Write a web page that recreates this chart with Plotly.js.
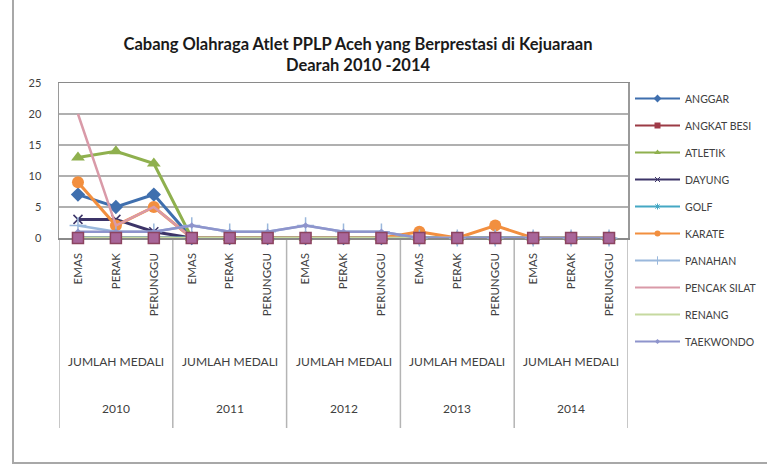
<!DOCTYPE html>
<html><head><meta charset="utf-8">
<script src="https://cdn.plot.ly/plotly-3.0.1.min.js"></script>
<style>html,body{margin:0;padding:0;background:#fff}#chart{width:767px;height:465px}</style>
</head><body><div id="chart"></div>
<script>
// ---- data ----
const years = ["2010", "2011", "2012", "2013", "2014"];
const groupLabel = "JUMLAH MEDALI";
const medals = ["EMAS", "PERAK", "PERUNGGU"];
const sports = ["ANGGAR", "ANGKAT BESI", "ATLETIK", "DAYUNG", "GOLF", "KARATE", "PANAHAN", "PENCAK SILAT", "RENANG", "TAEKWONDO"];

const anggar      = [7, 5, 7,  0, 0, 0,  0, 0, 0,  0, 0, 0,  0, 0, 0];
const angkatBesi  = [0, 0, 0,  0, 0, 0,  0, 0, 0,  0, 0, 0,  0, 0, 0];
const atletik     = [13, 14, 12, 0, 0, 0, 0, 0, 0,  0, 0, 0,  0, 0, 0];
const dayung      = [3, 3, 1,  0, 0, 0,  0, 0, 0,  0, 0, 0,  0, 0, 0];
const golf        = [0, 0, 0,  0, 0, 0,  0, 0, 0,  0, 0, 0,  0, 0, 0];
const karate      = [9, 2, 5,  0, 0, 0,  0, 0, 0,  1, 0, 2,  0, 0, 0];
const panahan     = [2, 1, 1,  2, 1, 1,  2, 1, 1,  0, 0, 0,  0, 0, 0];
const pencakSilat = [20, 2, 5, 0, 0, 0,  0, 0, 0,  0, 0, 0,  0, 0, 0];
const renang      = [0, 0, 0,  0, 0, 0,  0, 0, 0,  0, 0, 0,  0, 0, 0];
const taekwondo   = [1, 1, 1,  2, 1, 1,  2, 1, 1,  0, 0, 0,  0, 0, 0];

const seriesValues = [anggar, angkatBesi, atletik, dayung, golf, karate, panahan, pencakSilat, renang, taekwondo];

// ---- styles ----
const styles = [
  {color: "#3f6fae", width: 3,   marker: {symbol: "diamond", size: 11}, lm: {symbol: "diamond", size: 6}},
  {color: "#9b3b45", width: 3,   marker: {symbol: "square", size: 11, color: "#a8669a", line: {color: "#8c4460", width: 1.5}},
    lm: {symbol: "square", size: 6, color: "#a03a48"}, markersOnTop: true},
  {color: "#8fb04e", width: 3,   marker: {symbol: "triangle-up", size: 12}, lm: {symbol: "triangle-up", size: 6}},
  {color: "#3c3468", width: 3,   marker: {symbol: "x-thin-open", size: 9, line: {color: "#3c3468", width: 1.5}},
    lm: {symbol: "x-thin-open", size: 5, line: {color: "#3c3468", width: 1}}},
  {color: "#45a8c4", width: 3,   marker: {symbol: "asterisk-open", size: 8, line: {color: "#45a8c4", width: 1.5}},
    lm: {symbol: "asterisk-open", size: 5, line: {color: "#45a8c4", width: 1}}},
  {color: "#f28f3f", width: 3,   marker: {symbol: "circle", size: 12}, lm: {symbol: "circle", size: 6}},
  {color: "#9ab8dc", width: 2.5, marker: {symbol: "cross-thin-open", size: 12, line: {color: "#9ab8dc", width: 1.5}},
    lm: {symbol: "cross-thin-open", size: 6, line: {color: "#9ab8dc", width: 1}}},
  {color: "#d99aa8", width: 2.5, marker: null, lm: null},
  {color: "#c6d9a0", width: 2.5, marker: null, lm: null},
  {color: "#8e94cc", width: 2.5, marker: {symbol: "diamond", size: 5}, lm: {symbol: "diamond", size: 4}}
];

const xIdx = [];
const tickText = [];
years.forEach((y, yi) => medals.forEach((m, mi) => { xIdx.push(yi * medals.length + mi); tickText.push(m); }));

const traces = [];
const topMarkers = [];
sports.forEach((name, i) => {
  const st = styles[i];
  const base = {type: "scatter", x: xIdx, y: seriesValues[i], name: name, legendgroup: name,
    showlegend: false, cliponaxis: false};
  if (st.markersOnTop) {
    traces.push(Object.assign({}, base, {mode: "lines", line: {color: st.color, width: st.width}}));
    topMarkers.push(Object.assign({}, base, {mode: "markers", marker: Object.assign({color: st.color}, st.marker)}));
  } else {
    const t = Object.assign({}, base, {mode: st.marker ? "lines+markers" : "lines",
      line: {color: st.color, width: st.width}});
    if (st.marker) t.marker = Object.assign({color: st.color}, st.marker);
    traces.push(t);
  }
});
topMarkers.forEach(t => traces.push(t));
// legend entries (small markers, as in the original legend)
sports.forEach((name, i) => {
  const st = styles[i];
  const t = {
    type: "scatter", x: [null], y: [null], name: name, legendgroup: name, showlegend: true,
    mode: st.lm ? "lines+markers" : "lines",
    line: {color: st.color, width: 2}
  };
  if (st.lm) t.marker = Object.assign({color: st.color}, st.lm);
  traces.push(t);
});

// ---- layout geometry ----
const W = 767, H = 465;
const L = 59, R = 628, T = 83, B = 238;
const pw = R - L, ph = B - T;
const px = p => (p - L) / pw;
const py = p => (B - p) / ph;

const shapes = [];
for (let b = 0; b <= years.length; b++) {
  shapes.push({type: "line", xref: "x", yref: "paper", x0: b * medals.length - 0.5, x1: b * medals.length - 0.5,
    y0: 0, y1: py(428), layer: "below", line: {color: "#b4b4b4", width: 1.5}});
}
shapes.push({type: "rect", xref: "paper", yref: "paper", x0: px(13), x1: px(790), y0: py(463), y1: py(-10),
  line: {color: "#a8a8a8", width: 2}});

const annotations = [];
years.forEach((y, yi) => {
  const cx = yi * medals.length + (medals.length - 1) / 2;
  annotations.push({xref: "x", yref: "paper", x: cx, y: py(361), yanchor: "middle", text: groupLabel, showarrow: false,
    font: {family: "Lato", size: 12, color: "#404040"}});
  annotations.push({xref: "x", yref: "paper", x: cx, y: py(408), yanchor: "middle", text: y, showarrow: false,
    font: {family: "Lato", size: 12, color: "#404040"}});
});

const layout = {
  width: W, height: H,
  margin: {l: L, r: W - R, t: T, b: H - B, pad: 0, autoexpand: false},
  paper_bgcolor: "#ffffff", plot_bgcolor: "#ffffff",
  title: {text: "Cabang Olahraga Atlet PPLP Aceh yang Berprestasi di Kejuaraan<br>Dearah 2010 -2014",
    xref: "container", x: 358 / W, xanchor: "center", y: 1 - 50 / H, yanchor: "top",
    font: {family: "Lato", size: 16.5, weight: "bold", color: "#1a1a1a"}},
  showlegend: true,
  legend: {x: px(630), xanchor: "left", y: py(84), yanchor: "top", maxheight: 400,
    font: {family: "Lato", size: 10.5, color: "#404040"},
    traceorder: "grouped", tracegroupgap: 8, itemwidth: 45,
    bgcolor: "rgba(0,0,0,0)", borderwidth: 0},
  xaxis: {range: [-0.5, xIdx.length - 0.5], tickvals: xIdx, ticktext: tickText, tickangle: -90,
    showgrid: false, zeroline: false, showline: true, linecolor: "#8a8a8a", linewidth: 1.5, mirror: true,
    layer: "below traces",
    ticks: "", ticklabelstandoff: 9, fixedrange: true, automargin: false,
    tickfont: {family: "Lato", size: 11.5, color: "#404040"}},
  yaxis: {range: [0, 25], tickvals: [0, 5, 10, 15, 20, 25], showgrid: true, gridcolor: "#b0b0b0", gridwidth: 1.5,
    zeroline: false, showline: true, linecolor: "#9a9a9a", linewidth: 1.5, mirror: true,
    layer: "below traces",
    ticks: "", ticklabelstandoff: 14, fixedrange: true, automargin: false,
    tickfont: {family: "Lato", size: 11, color: "#404040"}},
  shapes: shapes,
  annotations: annotations,
  hovermode: false
};

Plotly.newPlot("chart", traces, layout, {displayModeBar: false, staticPlot: true});
</script>
</body></html>
